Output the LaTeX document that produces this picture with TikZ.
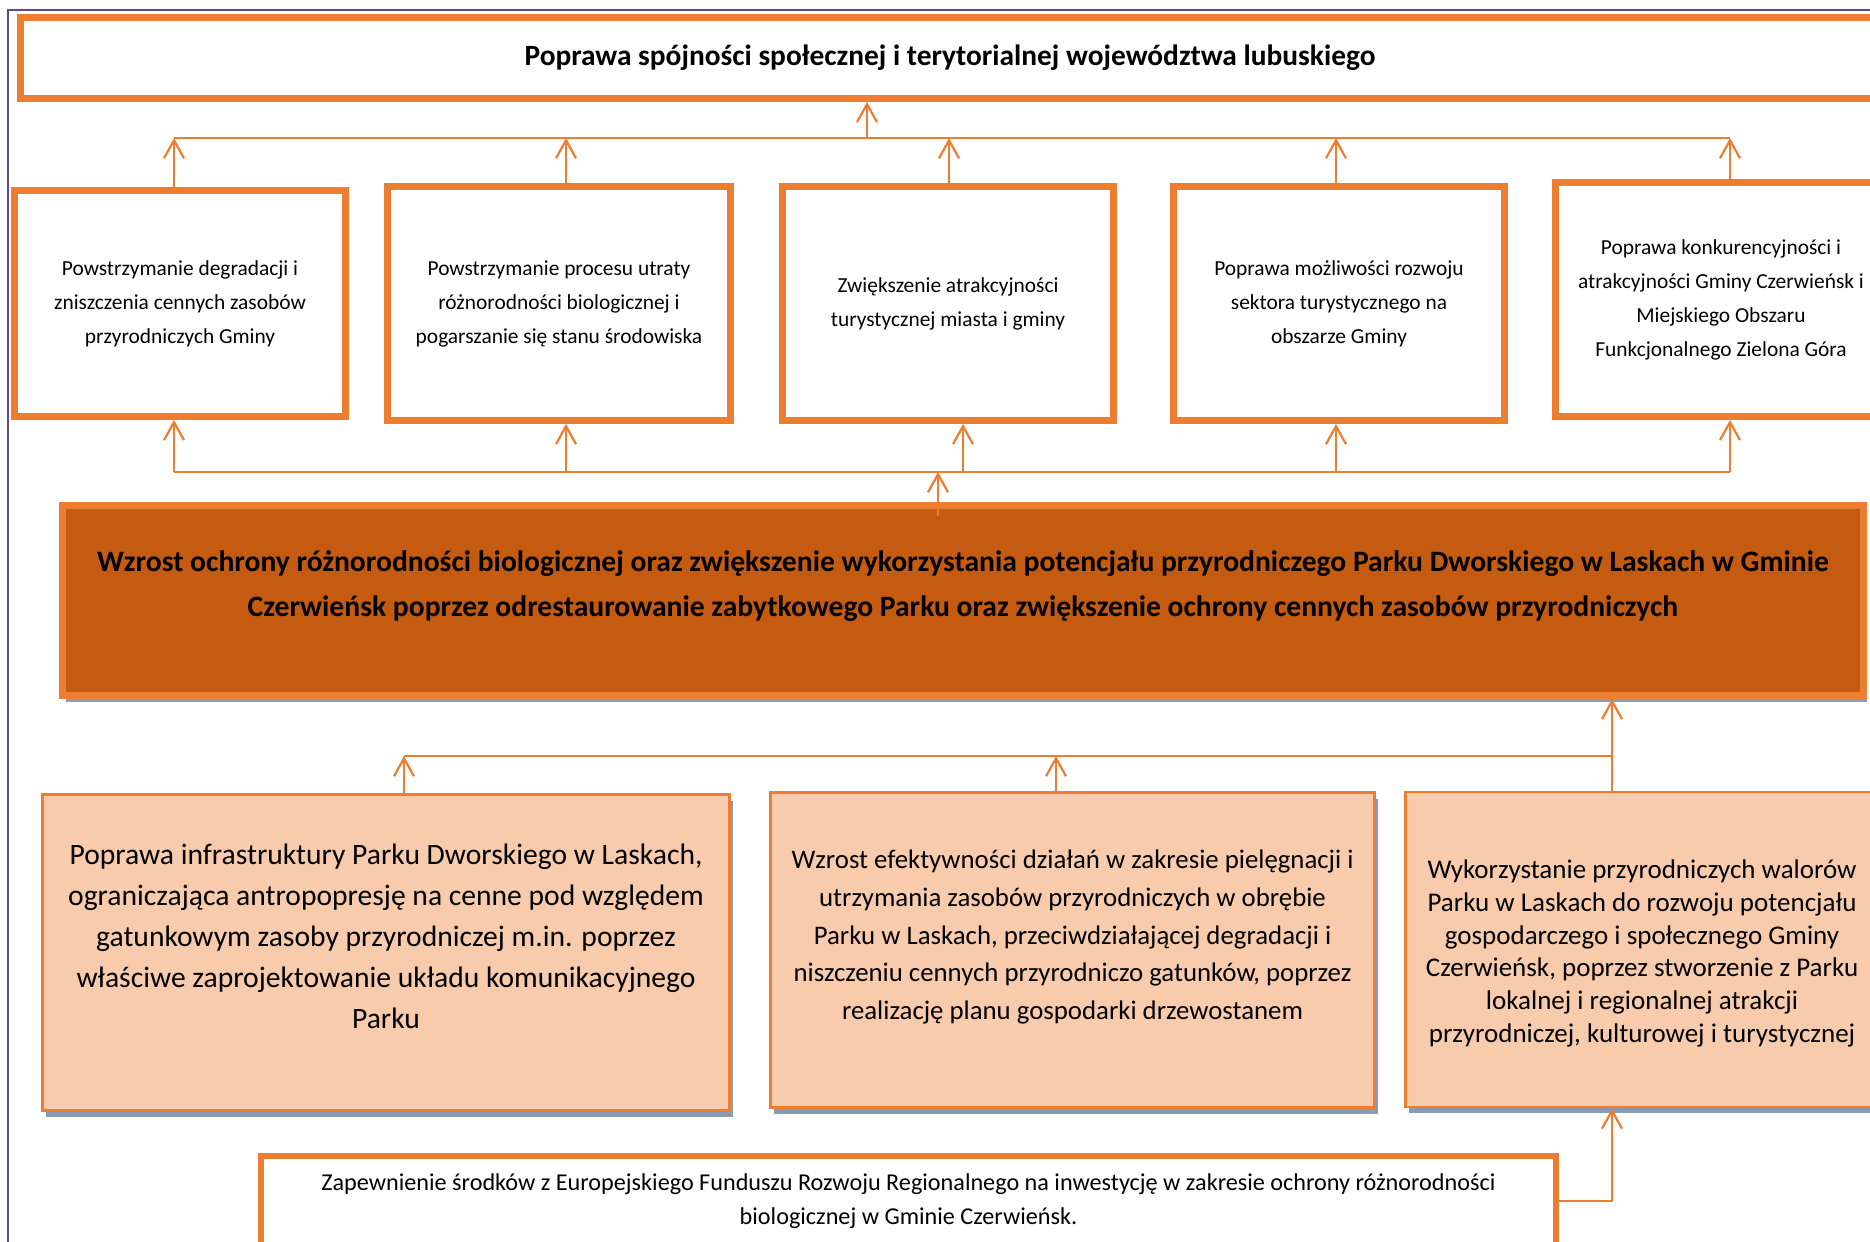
\documentclass[tikz,border=0pt]{standalone}
\usepackage{fontspec}
\setmainfont{Carlito}
\usetikzlibrary{arrows.meta,shadows,calc}
\definecolor{frameline}{HTML}{5F4B8B}
\definecolor{accent}{HTML}{ED7D31}
\definecolor{deep}{HTML}{C55A11}
\definecolor{peach}{HTML}{F8CBAD}
\definecolor{shade}{HTML}{8A9BB3}

\begin{document}
\begin{tikzpicture}[x=0.5pt,y=-0.5pt,
  framebox/.style={rectangle, draw=accent, line width=3.4pt, fill=white, inner sep=0pt, align=center},
  goalbox/.style={framebox, minimum width=165.5pt, minimum height=117pt, font=\fontsize{10.7}{17}\selectfont},
  corebox/.style={rectangle, draw=accent, line width=3.4pt, fill=deep, inner sep=0pt,
    drop shadow={shadow xshift=1.5pt, shadow yshift=-3pt, fill=shade, opacity=1}},
  taskbox/.style={rectangle, draw=accent, line width=1.4pt, fill=peach, inner sep=0pt,
    drop shadow={shadow xshift=1.5pt, shadow yshift=-3pt, fill=shade, opacity=1}},
  plain/.style={inner sep=0pt, align=center},
  link/.style={draw=accent, line width=1.1pt},
  arr/.style={link, -{Straight Barb[length=9pt,width=10pt]}},
]
\useasboundingbox (0,0) rectangle (1870,1242);
\clip (0,0) rectangle (1870,1242);
\fill[white] (0,0) rectangle (1870,1242);

% page frame
\draw[frameline, line width=1pt] (8,1270) -- (8,10) -- (1900,10);

% overall goal
\node[framebox, minimum width=929.5pt, minimum height=40.5pt,
      font=\bfseries\fontsize{14.7}{17}\selectfont] (top) at (950,58)
  {Poprawa spójności społecznej i terytorialnej województwa lubuskiego};

% intermediate goals
\node[goalbox, minimum height=113pt] (g1) at (180,303.5)
  {Powstrzymanie degradacji i\\zniszczenia cennych zasobów\\przyrodniczych Gminy};
\node[goalbox, minimum width=171.5pt] (g2) at (559,303.5)
  {Powstrzymanie procesu utraty\\różnorodności biologicznej i\\pogarszanie się stanu środowiska};
\node[goalbox] (g3) at (948,303.5)
  {Zwiększenie atrakcyjności\\turystycznej miasta i gminy};
\node[goalbox] (g4) at (1339,303.5)
  {Poprawa możliwości rozwoju\\sektora turystycznego na\\obszarze Gminy};
\node[goalbox] (g5) at (1721,299.5)
  {Poprawa konkurencyjności i\\atrakcyjności Gminy Czerwieńsk i\\Miejskiego Obszaru\\Funkcjonalnego Zielona Góra};

% project objective
\node[corebox, minimum width=900.5pt, minimum height=95pt] (core) at (963,600.5) {};
\node[plain, font=\bfseries\fontsize{14.8}{22.5}\selectfont] (coretext)
  at ($(core.center)+(0,-14)$)
  {Wzrost ochrony różnorodności biologicznej oraz zwiększenie wykorzystania potencjału przyrodniczego Parku Dworskiego w Laskach w Gminie\\
   Czerwieńsk poprzez odrestaurowanie zabytkowego Parku oraz zwiększenie ochrony cennych zasobów przyrodniczych};

% specific objectives
\node[taskbox, minimum width=343.5pt, minimum height=158pt] (tA) at (386,952.5) {};
\node[plain, font=\fontsize{14.8}{20.5}\selectfont] (tAtext) at ($(tA.center)+(0,-16)$)
  {Poprawa infrastruktury Parku Dworskiego w Laskach,\\ograniczająca antropopresję na cenne pod względem\\gatunkowym zasoby przyrodniczej m.in. poprzez\\właściwe zaprojektowanie układu komunikacyjnego\\Parku};
\node[taskbox, minimum width=302pt, minimum height=157.5pt] (tB) at (1072.5,950) {};
\node[plain, font=\fontsize{13.4}{18.8}\selectfont] (tBtext) at ($(tB.center)+(0,-13)$)
  {Wzrost efektywności działań w zakresie pielęgnacji i\\utrzymania zasobów przyrodniczych w obrębie\\Parku w Laskach, przeciwdziałającej degradacji i\\niszczeniu cennych przyrodniczo gatunków, poprzez\\realizację planu gospodarki drzewostanem};
\node[taskbox, minimum width=236.5pt, minimum height=157.5pt] (tC) at (1642,949.5) {};
\node[plain, font=\fontsize{13.5}{16.4}\selectfont] (tCtext) at ($(tC.center)+(0,4)$)
  {Wykorzystanie przyrodniczych walorów\\Parku w Laskach do rozwoju potencjału\\gospodarczego i społecznego Gminy\\Czerwieńsk, poprzez stworzenie z Parku\\lokalnej i regionalnej atrakcji\\przyrodniczej, kulturowej i turystycznej};

% funding
\node[framebox, line width=3pt, minimum width=647.5pt, minimum height=45pt,
      font=\fontsize{12.1}{17}\selectfont] (fund) at (908.5,1201)
  {Zapewnienie środków z Europejskiego Funduszu Rozwoju Regionalnego na inwestycję w zakresie ochrony różnorodności\\biologicznej w Gminie Czerwieńsk.};

% upper bus
\coordinate (u1) at (174,138);
\coordinate (u2) at (566,138);
\coordinate (u3) at (949,138);
\coordinate (u4) at (1336,138);
\coordinate (u5) at (1730,138);
\coordinate (uc) at (867,138);
\draw[link] (u1) -- (u5);
\draw[arr] (uc) -- (uc |- top.south);
\draw[arr] (g1.north -| u1) -- (u1);
\draw[arr] (g2.north -| u2) -- (u2);
\draw[arr] (g3.north -| u3) -- (u3);
\draw[arr] (g4.north -| u4) -- (u4);
\draw[arr] (g5.north -| u5) -- (u5);

% lower bus
\coordinate (l1) at (174,472);
\coordinate (l2) at (566,472);
\coordinate (l3) at (963,472);
\coordinate (l4) at (1336,472);
\coordinate (l5) at (1730,472);
\coordinate (lc) at (938,472);
\draw[link] (l1) -- (l5);
\draw[arr] (l1) -- (l1 |- g1.south);
\draw[arr] (l2) -- (l2 |- g2.south);
\draw[arr] (l3) -- (l3 |- g3.south);
\draw[arr] (l4) -- (l4 |- g4.south);
\draw[arr] (l5) -- (l5 |- g5.south);
\draw[arr] ($(lc |- core.north)+(0,14)$) -- (lc);

% objectives bus
\coordinate (b1) at (404,756);
\coordinate (b2) at (1056,756);
\coordinate (br) at (1612,756);
\draw[link] (b1) -- (br);
\draw[arr] (tA.north -| b1) -- (b1);
\draw[arr] (tB.north -| b2) -- (b2);
\draw[arr] (tC.north -| br) -- (br |- core.south);
\draw[arr] (fund.east) -| (br |- tC.south);
\end{tikzpicture}
\end{document}
